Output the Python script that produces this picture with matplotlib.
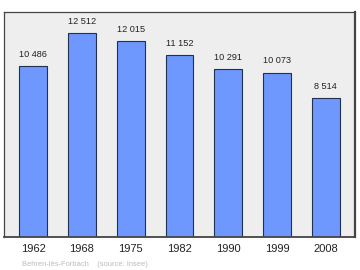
import matplotlib.pyplot as plt

years = ['1962', '1968', '1975', '1982', '1990', '1999', '2008']
population = [10486, 12512, 12015, 11152, 10291, 10073, 8514]
labels = ['10 486', '12 512', '12 015', '11 152', '10 291', '10 073', '8 514']

plt.rcParams['font.family'] = ['Liberation Sans', 'DejaVu Sans']

fig = plt.figure(figsize=(3.6, 2.7), dpi=100)
ax = fig.add_axes([4/360, 1 - 237/270, 351/360, 225/270])
ax.set_facecolor('#eeeeee')

x = list(range(len(years)))
ax.bar(x, population, width=0.57, color='#6f98ff', edgecolor='#223050', linewidth=0.8, zorder=2)
for xi, v, lab in zip(x, population, labels):
    ax.text(xi, v + 450, lab, ha='center', va='bottom', fontsize=6.6, color='#222222')

ax.set_xlim(-0.6, 6.6)
ax.set_ylim(0, 13800)
ax.set_yticks([])
ax.set_xticks(x)
ax.set_xticklabels(years, fontsize=8, color='#222222')
ax.tick_params(axis='x', length=0, pad=5)
for s in ax.spines.values():
    s.set_color('#444444')
    s.set_linewidth(0.9)
ax.spines['right'].set_linewidth(1.6)
ax.spines['bottom'].set_linewidth(1.3)

fig.text(22/360, 1 - 264/270, 'Behren-lès-Forbach    (source: Insee)', fontsize=5.4, color='#bbbbbb', va='center')

fig.savefig('out.png', dpi=100)
